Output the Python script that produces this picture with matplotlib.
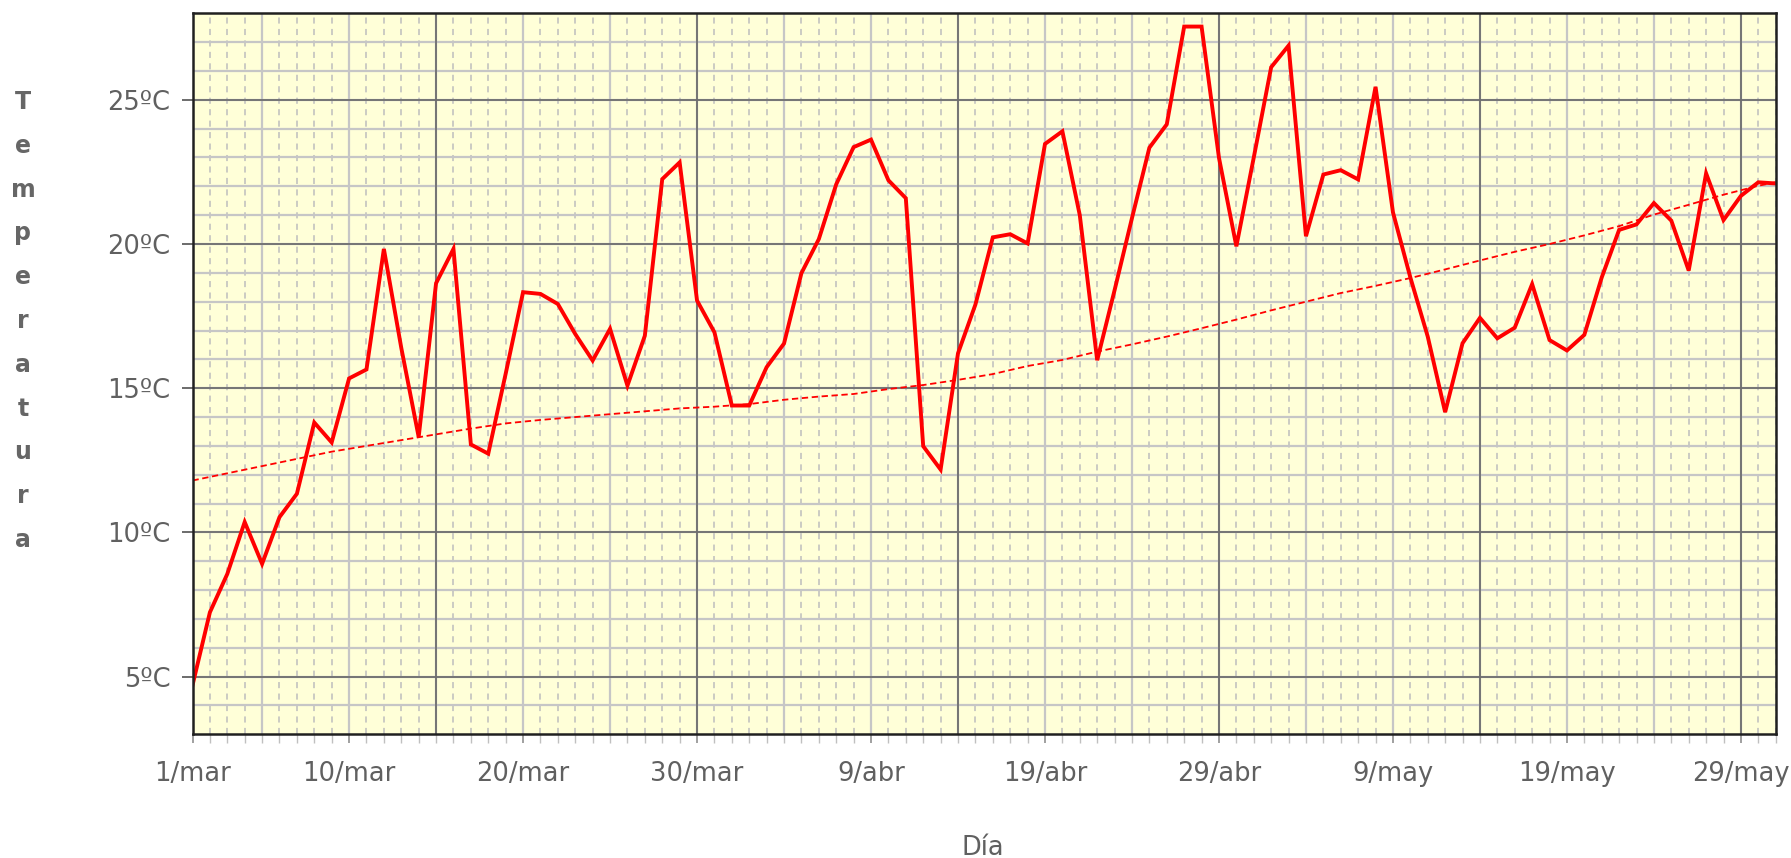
import numpy as np
import matplotlib
matplotlib.use("Agg")
import matplotlib.pyplot as plt
from matplotlib.ticker import FixedLocator, MultipleLocator

# ---- data (day index 0 = 1/mar ... 91 = 31/may) ----
temps = [4.70, 7.23, 8.56, 10.36, 8.91, 10.53, 11.34, 13.81, 13.12, 15.34,
         15.65, 19.83, 16.40, 13.31, 18.64, 19.83, 13.05, 12.73, 15.50, 18.33,
         18.27, 17.92, 16.88, 15.96, 17.06, 15.09, 16.82, 22.25, 22.83, 18.04,
         16.94, 14.40, 14.40, 15.73, 16.55, 18.99, 20.17, 22.07, 23.36, 23.62,
         22.21, 21.59, 12.99, 12.18, 16.21, 17.90, 20.23, 20.34, 20.02, 23.47,
         23.91, 21.00, 15.97, 18.40, 20.90, 23.34, 24.15, 27.54, 27.54, 22.99,
         19.92, 23.00, 26.13, 26.88, 20.27, 22.41, 22.56, 22.24, 25.45, 21.10,
         18.84, 16.79, 14.17, 16.56, 17.44, 16.73, 17.10, 18.61, 16.67, 16.31,
         16.85, 18.84, 20.49, 20.68, 21.42, 20.81, 19.08, 22.45, 20.83, 21.67,
         22.14, 22.10]
days = list(range(len(temps)))

trend_days = [0, 2, 4, 6, 8, 10, 12, 14, 16, 18, 20, 22, 24, 26, 28, 30, 32,
              34, 36, 38, 40, 42, 44, 46, 48, 50, 52, 54, 56, 58, 60, 62, 64,
              66, 68, 70, 72, 74, 76, 78, 80, 82, 84, 86, 88, 90, 91]
trend_vals = [11.80, 12.05, 12.30, 12.55, 12.80, 13.00, 13.20, 13.40, 13.60,
              13.78, 13.90, 14.00, 14.10, 14.20, 14.30, 14.36, 14.45, 14.60,
              14.71, 14.80, 14.97, 15.11, 15.29, 15.49, 15.77, 15.98, 16.27,
              16.52, 16.79, 17.08, 17.38, 17.70, 18.00, 18.30, 18.55, 18.82,
              19.12, 19.43, 19.73, 20.00, 20.30, 20.62, 21.02, 21.36, 21.71,
              22.02, 22.14]

tick_days = [0, 9, 19, 29, 39, 49, 59, 69, 79, 89]
tick_labels = ["1/mar", "10/mar", "20/mar", "30/mar", "9/abr", "19/abr",
               "29/abr", "9/may", "19/may", "29/may"]
ytick_vals = [5, 10, 15, 20, 25]
ytick_labels = ["5ºC", "10ºC", "15ºC", "20ºC", "25ºC"]

# ---- figure ----
W, H, DPI = 1791, 858, 100
fig = plt.figure(figsize=(W / DPI, H / DPI), dpi=DPI)
ax = fig.add_axes([192.5 / W, 1 - 734.3 / H, (1775.7 - 192.5) / W, (734.3 - 13.3) / H])
ax.set_facecolor("#FFFFD8")

XMIN, XMAX, YMIN, YMAX = 0, 91, 3, 28
ax.set_xlim(XMIN, XMAX)
ax.set_ylim(YMIN, YMAX)

# grid: daily dashed, 5-day light, 15-day dark
for d in np.arange(XMIN, XMAX + 1):
    ax.axvline(d, color="#bdbdbd", lw=1.1, ls=(0, (4, 3.5)), zorder=0.5)
for d in np.arange(4, XMAX + 1, 5):
    ax.axvline(d, color="#c6c6c6", lw=1.6, zorder=0.6)
for d in np.arange(14, XMAX + 1, 15):
    ax.axvline(d, color="#6e6e6e", lw=1.3, zorder=0.7)
for t in np.arange(YMIN + 1, YMAX, 1):
    ax.axhline(t, color="#c6c6c6", lw=1.6, zorder=0.6)
for t in np.arange(5, YMAX, 5):
    ax.axhline(t, color="#6e6e6e", lw=1.3, zorder=0.7)

# data
ax.plot(trend_days, trend_vals, color="#ff0000", lw=1.3, ls=(0, (3.5, 2)), zorder=3)
ax.plot(days, temps, color="#ff0000", lw=2.8, zorder=4, solid_joinstyle="miter")

# ticks
txt_color = "#606060"
ax.xaxis.set_major_locator(FixedLocator(tick_days))
ax.set_xticklabels(tick_labels)
ax.xaxis.set_minor_locator(MultipleLocator(1))
ax.yaxis.set_major_locator(FixedLocator(ytick_vals))
ax.set_yticklabels(ytick_labels)
ax.yaxis.set_minor_locator(FixedLocator([]))
ax.tick_params(axis="x", which="major", direction="out", length=6.5, width=1.2,
               color="#909090", labelsize=18.5, labelcolor=txt_color, pad=13)
ax.tick_params(axis="x", which="minor", direction="out", length=6.5, width=1.0,
               color="#c0c0c0")
ax.tick_params(axis="y", which="major", direction="out", length=8, width=1.3,
               color="#606060", labelsize=18.5, labelcolor=txt_color, pad=8)

for s in ax.spines.values():
    s.set_color("#202020")
    s.set_linewidth(1.8)
    s.set_zorder(5)

# axis titles
fig.text(23 / W, 1 - 321 / H, "\n".join("Temperatura"), ha="center", va="center",
         fontsize=17, fontweight="bold", color="#666666", linespacing=2.04)
fig.text(983 / W, 1 - 848 / H, "Día", ha="center", va="center",
         fontsize=18.5, color=txt_color)

fig.savefig("out.png", dpi=DPI)
